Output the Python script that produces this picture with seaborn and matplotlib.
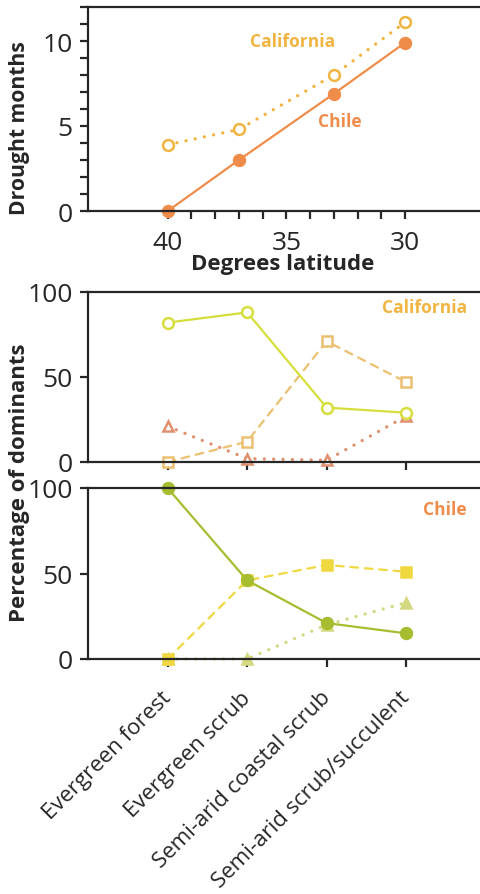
import numpy as np
import pandas as pd
import matplotlib
matplotlib.use("Agg")
import matplotlib.pyplot as plt
import matplotlib.transforms as mtrans
import seaborn as sns

# ---- data ----
latitude = [40, 37, 33, 30]
drought_california = [3.9, 4.8, 8.0, 11.1]
drought_chile = [0.0, 3.0, 6.9, 9.9]

categories = ["Evergreen forest", "Evergreen scrub", "Semi-arid coastal scrub",
              "Semi-arid scrub/succulent"]
cal_circle = [82, 88, 32, 29]
cal_square = [0, 12, 71, 47]
cal_triangle = [21, 2, 1, 27]
chile_circle = [100, 46, 21, 15]
chile_square = [0, 46, 55, 51]
chile_triangle = [0, 0, 20, 33]

sns.set_style("ticks")
plt.rcParams['font.family'] = ['Open Sans', 'DejaVu Sans']
plt.rcParams['axes.linewidth'] = 1.6

C_CAL = "#F2B440"
C_CHI = "#F08C4A"
C_LIME = "#D6DE3C"
C_TAN = "#EBC070"
C_SALMON = "#E0906E"
C_OLIVE = "#A8BC30"
C_YELLOW = "#F0D840"
C_PALE = "#D4D880"

W, H = 481, 895
fig = plt.figure(figsize=(W / 100, H / 100), dpi=100)
L, R = 88 / W, 1.0
def yfrac(px):
    return 1 - px / H
ax1 = fig.add_axes([L, yfrac(212), R - L, yfrac(8) - yfrac(212)])
ax2 = fig.add_axes([L, yfrac(463), R - L, yfrac(293) - yfrac(463)])
ax3 = fig.add_axes([L, yfrac(660), R - L, yfrac(489) - yfrac(660)])

dotted = (0, (0.01, 2.8))
dashed = (0, (3.5, 3))
ms = 7.8
mew = 1.8
TICK = 19
LAB = 16

def line(ax, x, y, color, ls, marker, filled, lw=1.6):
    sns.lineplot(x=x, y=y, ax=ax, color=color, linestyle=ls, linewidth=lw,
                 marker=marker, markersize=ms,
                 markerfacecolor=color if filled else 'white',
                 markeredgecolor=color, markeredgewidth=mew,
                 clip_on=False, sort=False, estimator=None,
                 dash_capstyle='round', solid_capstyle='round')

# ---- top panel ----
line(ax1, latitude, drought_california, C_CAL, dotted, 'o', False, lw=2.4)
line(ax1, latitude, drought_chile, C_CHI, '-', 'o', True)
ax1.set_xlim(43.36, 26.8)
ax1.set_ylim(0, 12)
ax1.set_xticks([40, 35, 30])
ax1.set_xticks(range(30, 41), minor=True)
ax1.set_yticks([0, 5, 10])
ax1.set_yticks(range(0, 13), minor=True)
ax1.tick_params(axis='both', which='both', direction='out', length=6, width=1.6,
                labelsize=TICK)
ax1.tick_params(axis='x', which='both', pad=8)
ax1.tick_params(axis='y', which='both', pad=5)
ax1.set_xlabel("Degrees latitude", fontsize=LAB, fontweight='bold', labelpad=0)
ax1.set_ylabel("Drought months", fontsize=15.2, fontweight='bold')
ax1.yaxis.set_label_coords(20 / W, yfrac(128), transform=fig.transFigure)
ax1.xaxis.set_label_coords(283 / W, yfrac(265), transform=fig.transFigure)
ax1.xaxis.label.set_va('center')
ax1.yaxis.label.set_va('center')
blend = mtrans.blended_transform_factory(fig.transFigure, ax1.transData)
ax1.text(293 / W, 10.0, "California", color=C_CAL, fontsize=12.5, fontweight='bold',
         ha='center', va='center', transform=blend)
ax1.text(340 / W, 5.3, "Chile", color=C_CHI, fontsize=12.5, fontweight='bold',
         ha='center', va='center', transform=blend)

# ---- middle panel ----
xs = list(range(len(categories)))
line(ax2, xs, cal_square, C_TAN, dashed, 's', False)
line(ax2, xs, cal_triangle, C_SALMON, dotted, '^', False, lw=2.4)
line(ax2, xs, cal_circle, C_LIME, '-', 'o', False)

# ---- bottom panel ----
line(ax3, xs, chile_triangle, C_PALE, dotted, '^', True, lw=2.4)
line(ax3, xs, chile_square, C_YELLOW, dashed, 's', True)
line(ax3, xs, chile_circle, C_OLIVE, '-', 'o', True)

for ax in (ax2, ax3):
    ax.set_xlim(-1, 3.94)
    ax.set_ylim(0, 100)
    ax.set_yticks([0, 50, 100])
    ax.set_xticks(xs)
    ax.tick_params(axis='both', direction='out', length=6, width=1.6, labelsize=TICK)
    ax.tick_params(axis='y', pad=5)
    ax.set_ylabel("")
ax2.set_xticklabels([])
ax3.set_xticklabels(categories, rotation=45, ha='right', rotation_mode='anchor',
                    fontsize=LAB)
ax3.tick_params(axis='x', pad=14)
shift = mtrans.ScaledTranslation(-7 / 100, 0, fig.dpi_scale_trans)
for lbl in ax3.get_xticklabels():
    lbl.set_transform(lbl.get_transform() + shift)

for ax in (ax1, ax2, ax3):
    ax.spines['right'].set_visible(False)
    ax.spines['top'].set_visible(True)

ax2.text(467 / W, yfrac(308), "California", transform=fig.transFigure, color=C_CAL,
         fontsize=12.5, fontweight='bold', ha='right', va='center')
ax3.text(467 / W, yfrac(510), "Chile", transform=fig.transFigure, color=C_CHI,
         fontsize=12.5, fontweight='bold', ha='right', va='center')
fig.text(20 / W, yfrac(483), "Percentage of dominants", rotation=90,
         fontsize=LAB, fontweight='bold', ha='center', va='center')

fig.savefig("out.png", dpi=100)
